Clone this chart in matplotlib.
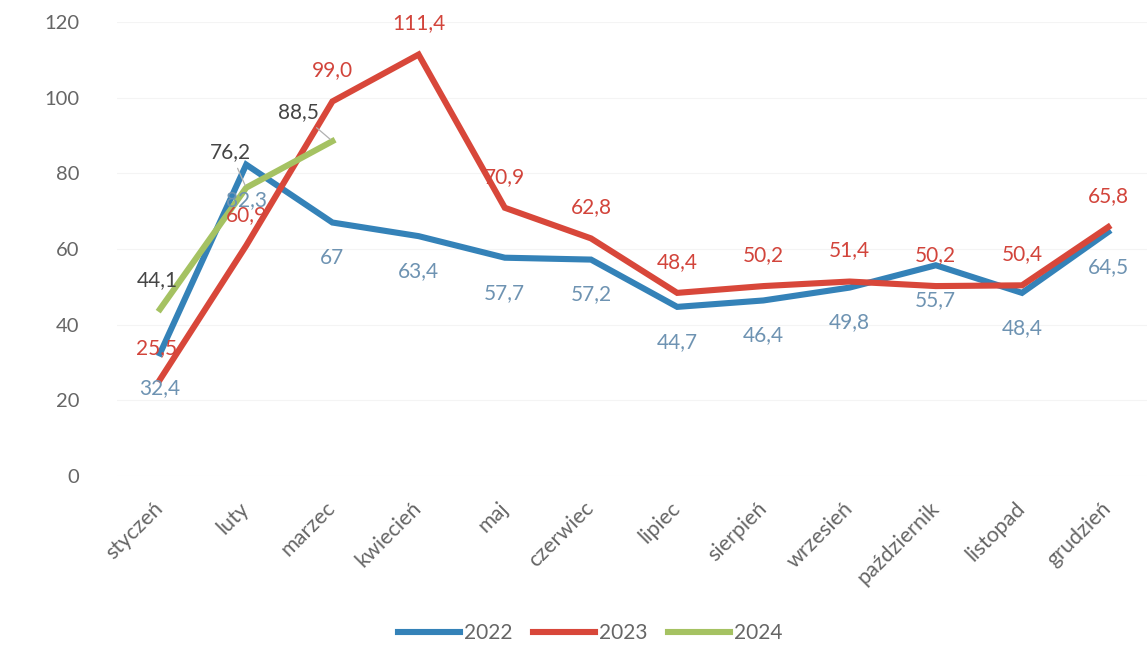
import numpy as np
import matplotlib
matplotlib.use("Agg")
import matplotlib.pyplot as plt

plt.rcParams['font.family'] = ['Lato', 'DejaVu Sans']

# dane
months = ['styczeń', 'luty', 'marzec', 'kwiecień', 'maj', 'czerwiec',
          'lipiec', 'sierpień', 'wrzesień', 'październik', 'listopad', 'grudzień']
v2022 = [32.4, 82.3, 67, 63.4, 57.7, 57.2, 44.7, 46.4, 49.8, 55.7, 48.4, 64.5]
v2023 = [25.5, 60.9, 99.0, 111.4, 70.9, 62.8, 48.4, 50.2, 51.4, 50.2, 50.4, 65.8]
v2024 = [44.1, 76.2, 88.5]
lab2022 = ['32,4', '82,3', '67', '63,4', '57,7', '57,2', '44,7', '46,4', '49,8', '55,7', '48,4', '64,5']
lab2023 = ['25,5', '60,9', '99,0', '111,4', '70,9', '62,8', '48,4', '50,2', '51,4', '50,2', '50,4', '65,8']
lab2024 = ['44,1', '76,2', '88,5']

c22, c23, c24 = '#3482B8', '#D8473A', '#A5C262'
t22, t23, t24 = '#6E93B2', '#D2443B', '#454545'
grey = '#666666'

fig = plt.figure(figsize=(11.47, 6.68), dpi=100)
ax = fig.add_axes([116.9 / 1147, 1 - 476 / 668, 1 - 116.9 / 1147, 454 / 668])

x = np.arange(len(months))
ax.plot(x, v2022, color=c22, lw=4.4, solid_joinstyle='miter', label='2022', zorder=3)
ax.plot(x, v2023, color=c23, lw=4.4, solid_joinstyle='miter', label='2023', zorder=3)
ax.plot(x[:len(v2024)], v2024, color=c24, lw=4.4, label='2024', zorder=4)

fs = 15
for i in range(len(months)):
    ax.annotate(lab2022[i], (x[i], v2022[i]), xytext=(0, -35), textcoords='offset pixels',
                ha='center', va='center', color=t22, fontsize=fs, zorder=5)
    dx = -3 if i == 0 else 0
    ax.annotate(lab2023[i], (x[i], v2023[i]), xytext=(dx, 31), textcoords='offset pixels',
                ha='center', va='center', color=t23, fontsize=fs, zorder=5)

offs24 = [(-3, 29), (-16, 36), (-34, 29)]
for i in range(len(v2024)):
    ap = None
    if i > 0:
        ap = dict(arrowstyle='-', color='#B0B0B0', lw=0.9, shrinkA=3, shrinkB=2)
    ax.annotate(lab2024[i], (x[i], v2024[i]), xytext=offs24[i], textcoords='offset pixels',
                ha='center', va='center', color=t24, fontsize=fs, zorder=5, arrowprops=ap)

ax.set_xlim(-0.5, 11.45)
ax.set_ylim(0, 120)
ax.set_yticks(np.arange(0, 121, 20))
ax.grid(axis='y', color='#F4F4F4', lw=0.8, zorder=0)
for s in ax.spines.values():
    s.set_visible(False)
ax.set_xticks(x)
ax.set_xticklabels(months, rotation=45, ha='right', va='center', rotation_mode='anchor',
                   color=grey, fontsize=15.5)
ax.tick_params(axis='x', length=0, pad=21)
ax.tick_params(axis='y', length=0, pad=27, labelcolor=grey, labelsize=14.5)

fig.legend(loc='center', bbox_to_anchor=(590 / 1147, 1 - 633 / 668), ncol=3, frameon=False,
           handlelength=3.0, handletextpad=0.15, columnspacing=1.0, fontsize=15,
           labelcolor=grey)

fig.savefig('out.png', dpi=100)
